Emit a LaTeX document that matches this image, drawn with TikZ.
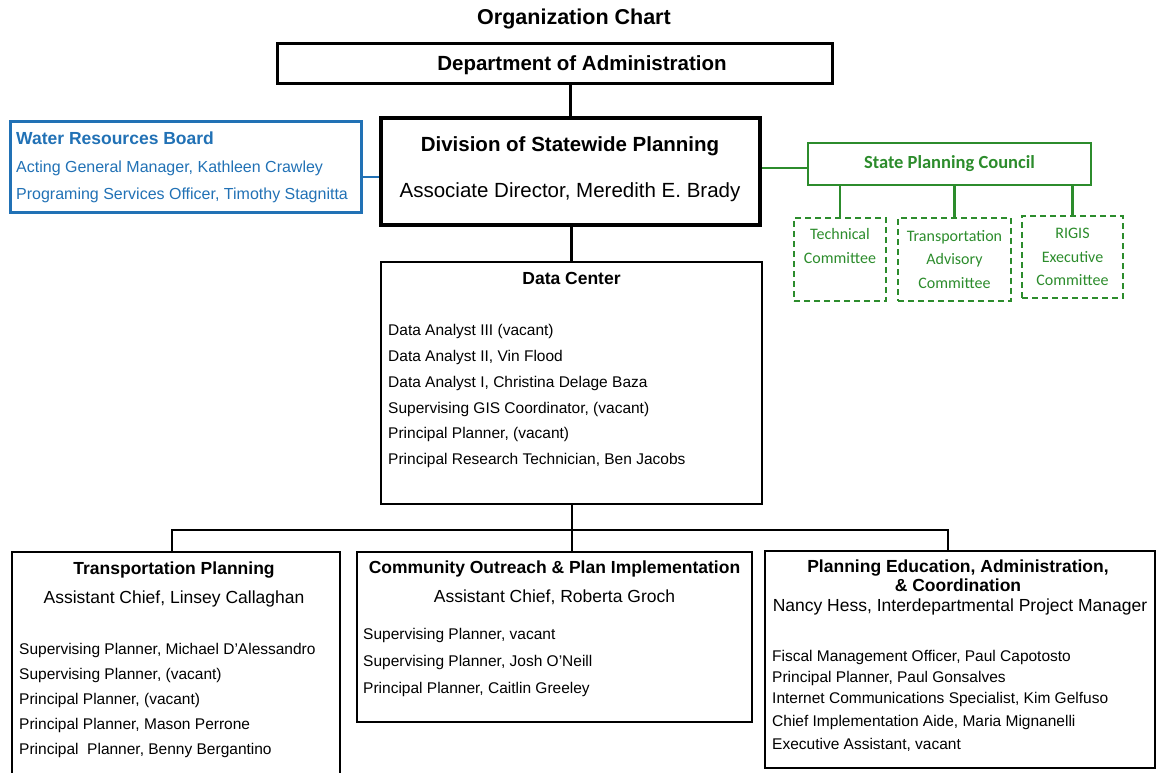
\documentclass[tikz,border=0pt]{standalone}
\usepackage{fontspec}
\setmainfont{Liberation Sans}
\newfontfamily\calibri{Carlito}
\usetikzlibrary{positioning, calc}
\definecolor{boardblue}{HTML}{2171B5}
\definecolor{councilgreen}{HTML}{2C8C2C}

\begin{document}
\begin{tikzpicture}[x=1pt, y=-1pt,
                    box/.style={draw,
                                line width=1.8pt,
                                inner sep=0pt},
                    heavybox/.style={box, line width=3pt},
                    bluebox/.style={box, draw=boardblue, line width=3pt},
                    greenbox/.style={box, draw=councilgreen, line width=2.8pt},
                    committee/.style={box, draw=councilgreen, line width=1.5pt,
                                      dash pattern=on 6pt off 4pt},
                    link/.style={draw, line width=2pt},
                    heavylink/.style={draw, line width=2.6pt},
                    txt/.style={inner sep=0pt, anchor=base west,
                                font=\fontsize{15.5}{18}\selectfont},
                    sub/.style={inner sep=0pt, anchor=base,
                                font=\fontsize{17.5}{20}\selectfont},
                    head/.style={inner sep=0pt, anchor=base,
                                 font=\fontsize{17.5}{20}\selectfont\bfseries},
                    big/.style={inner sep=0pt, anchor=base,
                                font=\fontsize{20.5}{24}\selectfont},
                    green/.style={inner sep=0pt, anchor=base, text=councilgreen,
                                  font=\fontsize{16}{19}\selectfont\calibri}]
	\useasboundingbox (0,0) rectangle (1160,773);

	\node [inner sep=0pt, anchor=base, font=\fontsize{21.5}{25}\selectfont\bfseries] (Title) at (574,25) {Organization Chart};

	% top of the chart
	\node [heavybox, minimum width=555, minimum height=40] (Dept) at (554.5,64) {};
	\node [big, font=\fontsize{20.5}{24}\selectfont\bfseries] (DeptText) at (582,71) {Department of Administration};

	\node [heavybox, line width=3.5pt, minimum width=379, minimum height=107] (Division) at (570.5,171.5) {};
	\node [big, font=\fontsize{20.5}{24}\selectfont\bfseries] (DivisionText) at (570,152) {Division of Statewide Planning};
	\node [big] (Director) at (570,197) {Associate Director, Meredith E. Brady};

	% water resources board
	\node [bluebox, minimum width=351, minimum height=90] (Water) at (185.5,167) {};
	\node [txt, text=boardblue, font=\fontsize{17.5}{20}\selectfont\bfseries] (WaterText) at (16,145) {Water Resources Board};
	\node [txt, text=boardblue, font=\fontsize{16}{19}\selectfont] (Manager) at (16,173) {Acting General Manager, Kathleen Crawley};
	\node [txt, text=boardblue, font=\fontsize{16}{19}\selectfont] (Officer) at (16,200) {Programing Services Officer, Timothy Stagnitta};

	% state planning council
	\node [greenbox, minimum width=283, minimum height=42] (Council) at (949.5,164) {};
	\node [green, font=\fontsize{18.5}{22}\selectfont\calibri\bfseries] (CouncilText) at (949.5,169) {State Planning Council};

	\node [committee, minimum width=92, minimum height=83] (Technical) at (840,259.5) {};
	\node [green] (Tech1) at (840,240) {Technical};
	\node [green] (Tech2) at (840,263) {Committee};

	\node [committee, minimum width=113, minimum height=83] (Advisory) at (954.5,259.5) {};
	\node [green] (Adv1) at (954.5,241) {Transportation};
	\node [green] (Adv2) at (954.5,264) {Advisory};
	\node [green] (Adv3) at (954.5,288) {Committee};

	\node [committee, minimum width=101, minimum height=82] (Rigis) at (1072.5,257) {};
	\node [green] (Rigis1) at (1072.5,238) {RIGIS};
	\node [green] (Rigis2) at (1072.5,262) {Executive};
	\node [green] (Rigis3) at (1072.5,285) {Committee};

	% data center
	\node [box, minimum width=381, minimum height=242] (DataCenter) at (571.5,383) {};
	\node [head] (DataCenterText) at (571.5,284) {Data Center};
	\node [txt] (Analyst3) at (388,335) {Data Analyst III (vacant)};
	\node [txt] (Analyst2) at (388,361) {Data Analyst II, Vin Flood};
	\node [txt] (Analyst1) at (388,387) {Data Analyst I, Christina Delage Baza};
	\node [txt] (GIS) at (388,413) {Supervising GIS Coordinator, (vacant)};
	\node [txt] (DCPlanner) at (388,438) {Principal Planner, (vacant)};
	\node [txt] (Technician) at (388,464) {Principal Research Technician, Ben Jacobs};

	% sections
	\node [box, minimum width=328, minimum height=238] (Transport) at (176,671) {};
	\node [head] (TransportText) at (174,574) {Transportation Planning};
	\node [sub] (TransportChief) at (174,603) {Assistant Chief, Linsey Callaghan};
	\node [txt] (T1) at (19,654) {Supervising Planner, Michael D'Alessandro};
	\node [txt] (T2) at (19,679) {Supervising Planner, (vacant)};
	\node [txt] (T3) at (19,704) {Principal Planner, (vacant)};
	\node [txt] (T4) at (19,729) {Principal Planner, Mason Perrone};
	\node [txt] (T5) at (19,754) {Principal\ \ Planner, Benny Bergantino};

	\node [box, minimum width=395, minimum height=170] (Outreach) at (554.5,637) {};
	\node [head] (OutreachText) at (554.5,573) {Community Outreach \& Plan Implementation};
	\node [sub] (OutreachChief) at (554.5,602) {Assistant Chief, Roberta Groch};
	\node [txt] (O1) at (363,639) {Supervising Planner, vacant};
	\node [txt] (O2) at (363,666) {Supervising Planner, Josh O'Neill};
	\node [txt] (O3) at (363,693) {Principal Planner, Caitlin Greeley};

	\node [box, minimum width=390, minimum height=217] (Education) at (960,659.5) {};
	\node [head] (EducationText) at (958,572) {Planning Education, Administration,};
	\node [head] (EducationText2) at (958,591) {\& Coordination};
	\node [sub] (EducationManager) at (960,611) {Nancy Hess, Interdepartmental Project Manager};
	\node [txt] (E1) at (772,661) {Fiscal Management Officer, Paul Capotosto};
	\node [txt] (E2) at (772,682) {Principal Planner, Paul Gonsalves};
	\node [txt] (E3) at (772,703) {Internet Communications Specialist, Kim Gelfuso};
	\node [txt] (E4) at (772,726) {Chief Implementation Aide, Maria Mignanelli};
	\node [txt] (E5) at (772,749) {Executive Assistant, vacant};

	% connectors
	\draw [heavylink] (Division.north) -- (Division.north |- Dept.south);
	\draw [heavylink, draw=boardblue] ([yshift=-10pt]Water.east) -- ([yshift=-10pt]Water.east -| Division.west);
	\draw [heavylink, draw=councilgreen] ([yshift=-4pt]Council.west) -- ([yshift=-4pt]Council.west -| Division.east);
	\draw [heavylink, draw=councilgreen] (Technical.north) -- (Technical.north |- Council.south);
	\draw [heavylink, draw=councilgreen] (Advisory.north) -- (Advisory.north |- Council.south);
	\draw [heavylink, draw=councilgreen] (Rigis.north) -- (Rigis.north |- Council.south);
	\draw [heavylink] (DataCenter.north) -- (DataCenter.north |- Division.south);
	\coordinate (Bus) at (571.5,530);
	\draw [link] (DataCenter.south) -- (Bus);
	\draw [link] ([xshift=-4pt]Transport.north) |- (Bus) -| ([xshift=-12pt]Education.north);
	\draw [link] (Bus) -- (Bus |- Outreach.north);
\end{tikzpicture}
\end{document}
